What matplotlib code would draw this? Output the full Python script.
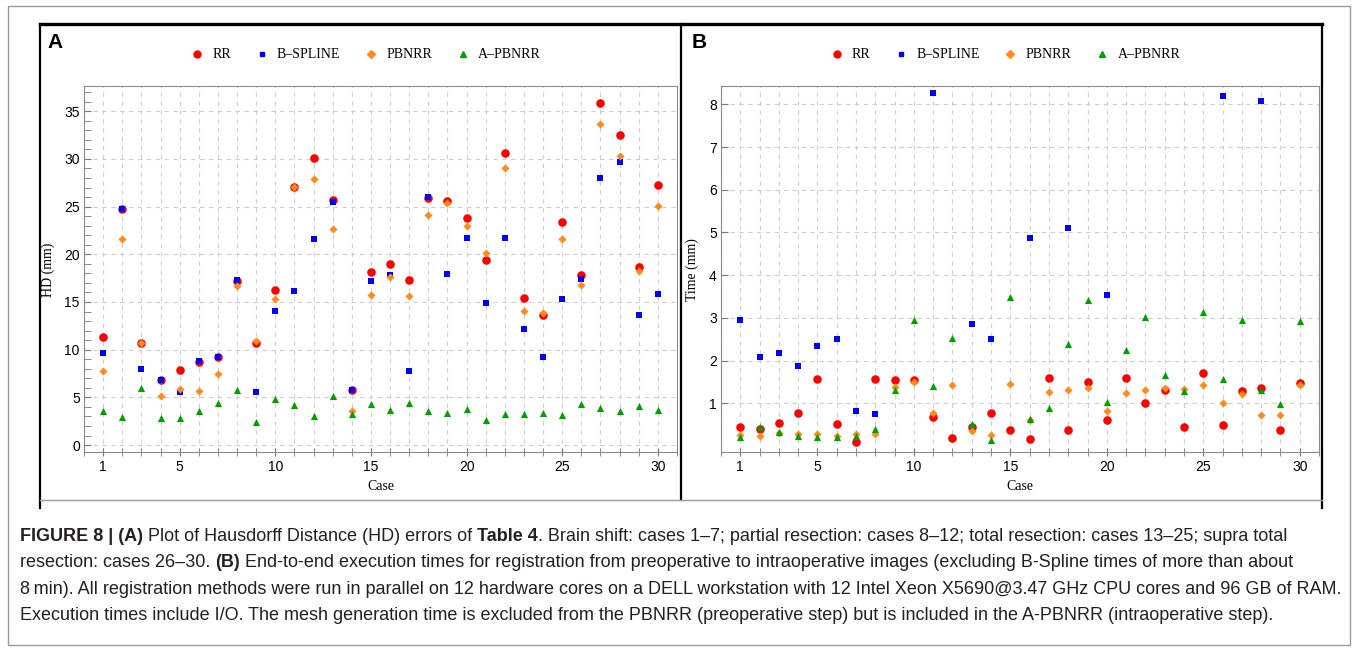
import matplotlib
matplotlib.use("Agg")
import matplotlib.pyplot as plt
import numpy as np
from matplotlib import font_manager
from matplotlib.lines import Line2D
from matplotlib.patches import Rectangle
from matplotlib.ticker import MultipleLocator, FixedLocator

nan = np.nan
cases = list(range(1, 31))
methods = ["RR", "B\u2013SPLINE", "PBNRR", "A\u2013PBNRR"]

# (A) Hausdorff distance, mm
hd_rr = [11.3, 24.8, 10.7, 6.8, 7.9, 8.7, 9.2, 17.2, 10.7, 16.3, 27.1, 30.1, 25.7, 5.8, 18.1,
         19.0, 17.3, 25.9, 25.6, 23.8, 19.4, 30.6, 15.4, 13.6, 23.4, 17.8, 35.9, 32.5, 18.7, 27.3]
hd_bspline = [9.6, 24.8, 8.0, 6.8, 5.6, 8.8, 9.2, 17.3, 5.6, 14.1, 16.2, 21.6, 25.5, 5.8, 17.2,
              17.8, 7.8, 26.0, 17.9, 21.7, 14.9, 21.7, 12.2, 9.2, 15.3, 17.4, 28.0, 29.7, 13.6, 15.8]
hd_pbnrr = [7.8, 21.6, 10.7, 5.1, 5.9, 5.7, 7.5, 16.7, 10.9, 15.3, 27.1, 27.9, 22.7, 3.6, 15.7,
            17.6, 15.6, 24.1, 25.4, 23.0, 20.1, 29.1, 14.1, 13.8, 21.6, 16.8, 33.7, 30.3, 18.3, 25.1]
hd_apbnrr = [3.6, 2.9, 6.0, 2.8, 2.8, 3.6, 4.4, 5.8, 2.4, 4.8, 4.2, 3.0, 5.1, 3.3, 4.3,
             3.7, 4.4, 3.6, 3.4, 3.8, 2.6, 3.3, 3.3, 3.4, 3.2, 4.3, 3.9, 3.6, 4.1, 3.7]

# (B) execution time
t_rr = [0.45, 0.41, 0.54, 0.78, 1.56, 0.51, 0.10, 1.56, 1.54, 1.54, 0.68, 0.19, 0.45, 0.78, 0.38,
        0.16, 1.60, 0.38, 1.51, 0.61, 1.59, 1.01, 1.32, 0.45, 1.70, 0.50, 1.28, 1.36, 0.37, 1.48]
t_bspline = [2.96, 2.08, 2.17, 1.88, 2.35, 2.50, 0.81, 0.74, nan, nan, 8.27, nan, 2.85, 2.50, nan,
             4.87, nan, 5.10, nan, 3.54, nan, nan, nan, nan, nan, 8.19, nan, 8.08, nan, nan]
t_pbnrr = [0.26, 0.24, 0.30, 0.27, 0.27, 0.23, 0.29, 0.27, 1.38, 1.49, 0.77, 1.42, 0.35, 0.25, 1.45,
           0.60, 1.27, 1.31, 1.35, 0.81, 1.24, 1.31, 1.36, 1.34, 1.42, 1.00, 1.22, 0.73, 0.73, 1.43]
t_apbnrr = [0.22, 0.44, 0.32, 0.23, 0.21, 0.20, 0.24, 0.40, 1.31, 2.96, 1.41, 2.53, 0.52, 0.15, 3.50,
            0.63, 0.88, 2.39, 3.42, 1.03, 2.24, 3.03, 1.67, 1.29, 3.14, 1.58, 2.95, 1.31, 0.99, 2.92]

caption = [
    [("FIGURE 8 | (A)", True), (" Plot of Hausdorff Distance (HD) errors of ", False), ("Table 4", True),
     (". Brain shift: cases 1\u20137; partial resection: cases 8\u201312; total resection: cases 13\u201325; supra total", False)],
    [("resection: cases 26\u201330. ", False), ("(B)", True),
     (" End-to-end execution times for registration from preoperative to intraoperative images (excluding B-Spline times of more than about", False)],
    [("8\u2009min). All registration methods were run in parallel on 12 hardware cores on a DELL workstation with 12 Intel Xeon X5690@3.47 GHz CPU cores and 96 GB of RAM.", False)],
    [("Execution times include I/O. The mesh generation time is excluded from the PBNRR (preoperative step) but is included in the A-PBNRR (intraoperative step).", False)],
]

colors = ["#ff0000", "#0000ff", "#ff8c1a", "#00a000"]
markers = ["o", "s", "D", "^"]
sizes = [38, 16, 17, 27]

installed = {f.name for f in font_manager.fontManager.ttflist}
narrow = "Liberation Sans Narrow" if "Liberation Sans Narrow" in installed else "Liberation Sans"
SANS = ["Liberation Sans", "DejaVu Sans"]
SERIF = ["Liberation Serif", "DejaVu Serif"]

W, H = 1357, 650
fig = plt.figure(figsize=(W / 100, H / 100), dpi=100)


def fx(px):
    return px / W


def fy(px):
    return 1 - px / H


# frame decoration
fig.patches.append(Rectangle((fx(8), fy(645)), fx(1342), (645 - 6) / H, transform=fig.transFigure,
                             fill=False, edgecolor="#9a9a9a", lw=1))
fig.add_artist(Line2D([fx(40), fx(1322)], [fy(24), fy(24)], color="black", lw=2.4))
for xp, yb in [(40, 508), (681, 500), (1322, 508)]:
    fig.add_artist(Line2D([fx(xp), fx(xp)], [fy(24), fy(yb)], color="black", lw=1.6))
fig.add_artist(Line2D([fx(40), fx(1322)], [fy(500), fy(500)], color="#9a9a9a", lw=1))


def panel(left, right, series, ylim, ymajor, yminor, label, ylabel, ylabel_x, letter_x):
    ax = fig.add_axes([fx(left), fy(452), fx(right - left), (452 - 86) / H])
    for vals, c, m, s in zip(series, colors, markers, sizes):
        ax.scatter(cases, vals, c=c, marker=m, s=s, linewidths=0, zorder=3)
    ax.set_xlim(0, 31)
    ax.set_ylim(*ylim)
    ax.xaxis.set_major_locator(FixedLocator([1, 5, 10, 15, 20, 25, 30]))
    ax.xaxis.set_minor_locator(MultipleLocator(1))
    ax.yaxis.set_major_locator(FixedLocator(ymajor))
    if yminor:
        ax.yaxis.set_minor_locator(MultipleLocator(yminor))
    ax.grid(True, which="both", axis="x", color="#cfcfcf", ls=(0, (4, 4)), lw=0.8)
    ax.grid(True, which="major", axis="y", color="#cfcfcf", ls=(0, (4, 4)), lw=0.8)
    ax.set_axisbelow(True)
    for sp in ax.spines.values():
        sp.set_color("#8a8a8a")
    ax.tick_params(axis="x", which="both", direction="inout", length=6, color="#7a7a7a")
    ax.tick_params(axis="y", which="both", direction="in", length=5, color="#7a7a7a")
    ax.tick_params(labelsize=10, pad=3)
    for t in ax.get_xticklabels() + ax.get_yticklabels():
        t.set_family(SANS)
    fig.text(fx((left + right) / 2), fy(487), "Case", ha="center", va="center", family=SERIF, fontsize=10)
    fig.text(fx(ylabel_x), fy(270), ylabel, ha="center", va="center", rotation=90, family=SERIF, fontsize=10)
    fig.text(fx(letter_x), fy(43), label, ha="left", va="center", family=SANS, fontsize=15, fontweight="bold")
    handles = [Line2D([], [], ls="", marker=m, color=c, markersize=ms)
               for m, c, ms in zip(markers, colors, [5, 3.5, 3.8, 4.5])]
    fig.legend(handles, methods, loc="center", bbox_to_anchor=(fx((left + right) / 2 - 15), fy(55)),
               ncol=4, frameon=False, handlelength=1, handletextpad=0.6, columnspacing=1.7,
               prop={"family": SERIF, "size": 10})
    return ax


panel(84, 677, [hd_rr, hd_bspline, hd_pbnrr, hd_apbnrr], (-0.73, 37.65),
      [0, 5, 10, 15, 20, 25, 30, 35], 1, "A", "HD (mm)", 48, 47)
panel(721, 1319, [t_rr, t_bspline, t_pbnrr, t_apbnrr], (-0.14, 8.43),
      [1, 2, 3, 4, 5, 6, 7, 8], None, "B", "Time (mm)", 692, 692)

# caption, drawn piece by piece so bold parts can sit inline
renderer = fig.canvas.get_renderer()
probe = fig.text(0, 0, caption[2][0][0], family=narrow, fontsize=12)
scale = 12 * (1348 - 20) / probe.get_window_extent(renderer).width
probe.remove()
fsize = min(scale, 13.5)


def width_of(s, bold):
    # wrap in bars so leading/trailing spaces count
    t = fig.text(0, 0, "|" + s + "|", family=narrow, fontsize=fsize, fontweight="bold" if bold else "normal")
    bar = fig.text(0, 0, "||", family=narrow, fontsize=fsize, fontweight="bold" if bold else "normal")
    w = t.get_window_extent(renderer).width - bar.get_window_extent(renderer).width
    t.remove()
    bar.remove()
    return w


for i, line in enumerate(caption):
    x = 20
    yb = 541 + i * 26.3
    for s, bold in line:
        fig.text(fx(x), fy(yb), s, family=narrow, fontsize=fsize, color="#231f20",
                 fontweight="bold" if bold else "normal", va="baseline")
        x += width_of(s, bold)

fig.savefig("out.png", dpi=100)
